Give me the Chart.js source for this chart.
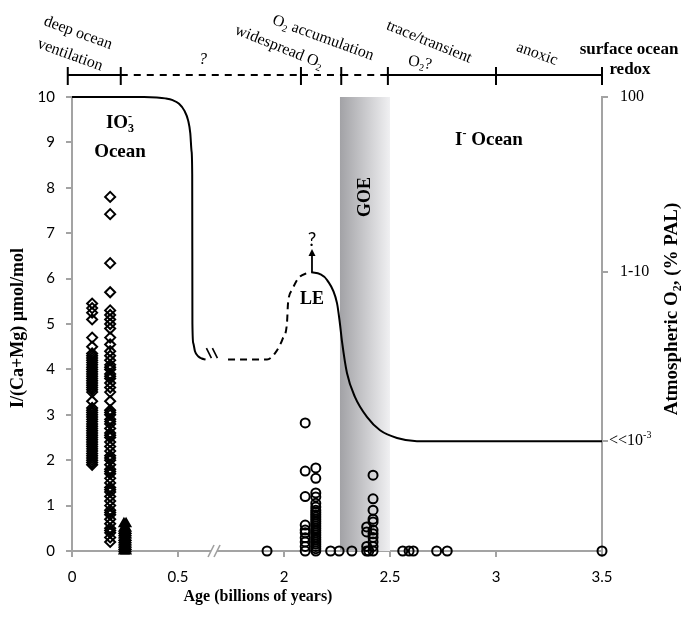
<!DOCTYPE html>
<html>
<head>
<meta charset="utf-8">
<script src="https://cdn.jsdelivr.net/npm/chart.js@4.4.0/dist/chart.umd.min.js"></script>
<style>
  body { margin: 0; background: #fff; }
  #wrap { width: 686px; height: 617px; }
</style>
</head>
<body>
<div id="wrap"><canvas id="chart"></canvas></div>
<script>
// ages in billions of years; the axis skips 0.5-2 Ga, so ages >= 1 sit 1 unit to the left on the plot
const ageTicks = [0, 0.5, 2, 2.5, 3, 3.5];
const pos = a => (a < 1 ? a : a - 1);

// I/(Ca+Mg) data
const diamondAgeA = 0.095;
const diamondValsA = [5.45, 5.35, 5.25, 5.1, 4.7, 4.5, 4.35, 4.3, 4.25, 4.2, 4.15, 4.1, 4.05, 4.0, 3.95, 3.9,
  3.85, 3.8, 3.75, 3.7, 3.65, 3.6, 3.55, 3.5, 3.3, 3.15, 3.1, 3.05, 3.0, 2.95, 2.9, 2.85, 2.8, 2.75, 2.7,
  2.65, 2.6, 2.55, 2.5, 2.45, 2.4, 2.35, 2.3, 2.25, 2.2, 2.15, 2.1, 2.05, 2.0, 1.95, 1.9];
const diamondAgeB = 0.18;
const diamondValsB = [7.8, 7.42, 6.34, 5.7, 5.3, 5.2, 5.1, 5.0, 4.9, 4.7, 4.55, 4.4, 4.3, 4.2, 4.1, 4.05, 4.0,
  3.9, 3.85, 3.8, 3.7, 3.6, 3.5, 3.3, 3.1, 3.05, 3.0, 2.9, 2.85, 2.8, 2.7, 2.6, 2.55, 2.5, 2.4, 2.3, 2.2,
  2.1, 2.05, 2.0, 1.9, 1.8, 1.75, 1.7, 1.6, 1.5, 1.4, 1.35, 1.3, 1.2, 1.1, 1.0, 0.9, 0.85, 0.8, 0.7, 0.6,
  0.5, 0.45, 0.4, 0.3, 0.2];
const triangleAges = [0.245, 0.255];
const triangleVals = [0.6, 0.5, 0.45, 0.4, 0.35, 0.3, 0.25, 0.2, 0.15, 0.1, 0.05, 0];

const circlesAt210 = [2.82, 1.76, 1.2, 0.57, 0.46, 0.4, 0.29, 0.2, 0.1, 0];
const circlesAt215 = [1.83, 1.6, 1.28, 1.19, 1.05, 0.97, 0.9, 0.85, 0.8, 0.75, 0.7, 0.65, 0.6, 0.55, 0.5,
  0.45, 0.4, 0.35, 0.3, 0.25, 0.2, 0.15, 0.1, 0.05, 0];
const circlesAt239 = [0.53, 0.42, 0.1, 0];
const circlesAt242 = [1.67, 1.15, 0.9, 0.7, 0.64, 0.46, 0.38, 0.3, 0.2, 0.1, 0];
const circleZeroAges = [1.92, 2.22, 2.26, 2.32, 2.4, 2.56, 2.59, 2.61, 2.72, 2.77, 3.5];

// atmospheric O2 curve, drawn in left-axis units
const o2AgesA = [0, 0.34, 0.4, 0.44, 0.475, 0.505, 0.53, 0.548, 0.558, 0.564, 0.567, 0.568, 0.572, 0.58,
  0.595, 0.612, 0.63];
const o2ValsA = [10, 10, 9.99, 9.97, 9.93, 9.85, 9.7, 9.48, 9.2, 8.8, 8.3, 5.0, 4.58, 4.4, 4.29, 4.24, 4.22];
const o2AgesDash = [1.736, 1.92, 1.958, 1.995, 2.014, 2.019, 2.038, 2.066, 2.108, 2.132];
const o2ValsDash = [4.22, 4.22, 4.36, 4.69, 5.02, 5.46, 5.75, 6.0, 6.12, 6.14];
const o2AgesB = [2.132, 2.17, 2.203, 2.25, 2.264, 2.274, 2.297, 2.335, 2.392, 2.453, 2.533, 2.627, 3.5];
const o2ValsB = [6.14, 6.1, 5.97, 5.46, 5.0, 4.6, 3.92, 3.39, 2.95, 2.66, 2.49, 2.42, 2.42];

const rightTickVals = [10, 6.15, 2.42];
const rightTickLabels = [['100'], ['1-10'], ['<<10', ['-3', 'sup']]];

const goeAges = [2.264, 2.5];
const topBarAges = [-0.02, 0.23, 2.08, 2.27, 2.49, 3.0, 3.5];
const topBarDashed = [false, true, true, true, false, false];

const pts = (age, vals) => vals.map(v => ({ x: pos(age), y: v }));
const line = (ages, vals) => ages.map((a, i) => ({ x: pos(a), y: vals[i] }));

const serif = '"Liberation Serif", "Times New Roman", serif';

function richText(ctx, parts, x, y, o) {
  const st = (o.italic ? 'italic ' : '') + (o.bold ? 'bold ' : '');
  const big = st + o.size + 'px ' + (o.family || serif);
  const small = st + Math.round(o.size * 0.62) + 'px ' + (o.family || serif);
  const items = [];
  let w = 0, last = 0;
  parts.forEach(p => {
    const t = typeof p === 'string' ? p : p[0];
    const kind = typeof p === 'string' ? 'n' : p[1];
    const f = kind === 'n' ? big : small;
    ctx.font = f;
    const tw = ctx.measureText(t).width;
    const dy = kind === 'sub' ? o.size * 0.3 : (kind === 'n' ? 0 : -o.size * 0.33);
    if (kind === 'over') {
      items.push({ t, f, x: last, dy });
      w = Math.max(w, last + tw);
      return;
    }
    last = w;
    items.push({ t, f, x: w, dy });
    w += tw;
  });
  ctx.save();
  ctx.translate(x, y);
  if (o.angle) ctx.rotate(o.angle * Math.PI / 180);
  ctx.textBaseline = 'middle';
  ctx.textAlign = 'left';
  ctx.fillStyle = '#000';
  const x0 = o.align === 'left' ? 0 : -w / 2;
  items.forEach(it => { ctx.font = it.f; ctx.fillText(it.t, x0 + it.x, it.dy); });
  ctx.restore();
}

const decor = {
  id: 'decor',
  beforeDatasetsDraw(chart) {
    const { ctx, chartArea: ca, scales: { x } } = chart;
    const x0 = x.getPixelForValue(pos(goeAges[0])), x1 = x.getPixelForValue(pos(goeAges[1]));
    const g = ctx.createLinearGradient(x0, 0, x1, 0);
    g.addColorStop(0, '#a2a2a6');
    g.addColorStop(1, '#f0f0f2');
    ctx.save();
    ctx.fillStyle = g;
    ctx.fillRect(x0, ca.top, x1 - x0, ca.bottom - ca.top);
    ctx.restore();
  },
  afterDraw(chart) {
    const { ctx, chartArea: ca, scales: { x, y } } = chart;
    ctx.save();
    ctx.strokeStyle = '#000';

    // top bar of ocean redox states
    const by = 75;
    ctx.lineWidth = 2;
    for (let i = 0; i < topBarAges.length - 1; i++) {
      ctx.setLineDash(topBarDashed[i] ? [7, 6] : []);
      ctx.beginPath();
      ctx.moveTo(x.getPixelForValue(pos(topBarAges[i])), by);
      ctx.lineTo(x.getPixelForValue(pos(topBarAges[i + 1])), by);
      ctx.stroke();
    }
    ctx.setLineDash([]);
    topBarAges.forEach(a => {
      const px = x.getPixelForValue(pos(a));
      ctx.beginPath(); ctx.moveTo(px, 67); ctx.lineTo(px, 85); ctx.stroke();
    });

    const t16 = { size: 16 };
    richText(ctx, ['deep ocean'], 78, 33, { ...t16, angle: 20 });
    richText(ctx, ['ventilation'], 70, 55, { ...t16, angle: 20 });
    richText(ctx, ['?'], 203, 60, { ...t16, italic: true });
    richText(ctx, ['widespread O', ['2', 'sub']], 279, 47, { ...t16, angle: 22 });
    richText(ctx, ['O', ['2', 'sub'], ' accumulation'], 323, 38, { ...t16, angle: 20 });
    richText(ctx, ['trace/transient'], 429, 42, { ...t16, angle: 22 });
    richText(ctx, ['O', ['2', 'sub'], '?'], 420, 63, { ...t16, angle: 10 });
    richText(ctx, ['anoxic'], 537, 54, { ...t16, angle: 20 });
    richText(ctx, ['surface ocean'], 629, 50, { size: 17, bold: true });
    richText(ctx, ['redox'], 630, 70, { size: 17, bold: true });

    // labels inside the plot
    richText(ctx, ['IO', ['3', 'sub'], ['-', 'over']], 120, 123, { size: 19, bold: true });
    richText(ctx, ['Ocean'], 120, 152, { size: 19, bold: true });
    richText(ctx, ['I', ['-', 'sup'], ' Ocean'], 489, 140, { size: 19, bold: true });
    richText(ctx, ['LE'], 312, 299, { size: 18, bold: true });
    richText(ctx, ['GOE'], 365, 197, { size: 18, bold: true, angle: -90 });

    // arrow and question mark above LE peak
    const ax = x.getPixelForValue(pos(2.132));
    const ay0 = y.getPixelForValue(6.14), ay1 = y.getPixelForValue(6.65);
    ctx.lineWidth = 1.8;
    ctx.beginPath(); ctx.moveTo(ax, ay0); ctx.lineTo(ax, ay1 + 3); ctx.stroke();
    ctx.beginPath(); ctx.moveTo(ax, ay1); ctx.lineTo(ax - 3.5, ay1 + 7); ctx.lineTo(ax + 3.5, ay1 + 7); ctx.closePath();
    ctx.fillStyle = '#000'; ctx.fill();
    richText(ctx, ['?'], ax, y.getPixelForValue(6.85), { size: 19, family: 'Lato, sans-serif' });

    // break marks on curve
    const bx = x.getPixelForValue(pos(0.66)), byc = y.getPixelForValue(4.36);
    ctx.lineWidth = 1.6;
    [-3, 3].forEach(d => {
      ctx.beginPath(); ctx.moveTo(bx + d - 2.5, byc - 5); ctx.lineTo(bx + d + 2.5, byc + 5); ctx.stroke();
    });

    // break on x axis
    const xb = x.getPixelForValue(0.67);
    ctx.fillStyle = '#fff';
    ctx.fillRect(xb - 3, ca.bottom - 2, 6, 4);
    ctx.strokeStyle = '#a0a0a0';
    ctx.lineWidth = 1.6;
    [-3, 3].forEach(d => {
      ctx.beginPath(); ctx.moveTo(xb + d - 3, ca.bottom + 6); ctx.lineTo(xb + d + 3, ca.bottom - 6); ctx.stroke();
    });

    // right axis labels
    const r = chart.scales.y2;
    rightTickVals.forEach((v, i) => {
      const lx = i === 2 ? ca.right + 7 : ca.right + 18;
      richText(ctx, rightTickLabels[i], lx, r.getPixelForValue(v), { size: 16, align: 'left' });
    });

    // axis titles
    richText(ctx, ['Age (billions of years)'], 258, 597, { size: 16, bold: true });
    richText(ctx, ['I/(Ca+Mg) µmol/mol'], 18, 328, { size: 18, bold: true, angle: -90 });
    richText(ctx, ['Atmospheric O', ['2', 'sub'], ', (% PAL)'], 672, 309, { size: 19, bold: true, angle: -90 });
    ctx.restore();
  }
};

const axisGrey = '#a3a3a3';
const scatter = (data, style, radius, extra) => Object.assign({
  data, pointStyle: style, pointRadius: radius, borderColor: '#000',
  backgroundColor: 'rgba(0,0,0,0)', borderWidth: 2, showLine: false, clip: false
}, extra || {});
const curve = (data, dash) => ({
  data, showLine: true, pointRadius: 0, borderColor: '#000', borderWidth: 2,
  borderDash: dash || [], cubicInterpolationMode: 'monotone', clip: false
});

new Chart(document.getElementById('chart'), {
  type: 'scatter',
  data: {
    datasets: [
      curve(line(o2AgesA, o2ValsA)),
      curve(line(o2AgesDash, o2ValsDash), [7, 5]),
      curve(line(o2AgesB, o2ValsB)),
      scatter(pts(diamondAgeA, diamondValsA), 'rectRot', 5),
      scatter(pts(diamondAgeB, diamondValsB), 'rectRot', 5),
      scatter(pts(triangleAges[0], triangleVals).concat(pts(triangleAges[1], triangleVals)), 'triangle', 5,
        { backgroundColor: '#000' }),
      scatter(pts(2.1, circlesAt210), 'circle', 4.5),
      scatter(pts(2.15, circlesAt215), 'circle', 4.5),
      scatter(pts(2.39, circlesAt239), 'circle', 4.5),
      scatter(pts(2.42, circlesAt242), 'circle', 4.5),
      scatter(circleZeroAges.map(a => ({ x: pos(a), y: 0 })), 'circle', 4.5)
    ]
  },
  options: {
    responsive: true,
    maintainAspectRatio: false,
    animation: false,
    layout: { padding: { top: 97 } },
    plugins: { legend: { display: false }, tooltip: { enabled: false } },
    scales: {
      x: {
        type: 'linear', min: 0, max: pos(3.5),
        afterBuildTicks: s => { s.ticks = ageTicks.map(a => ({ value: pos(a) })); },
        ticks: { callback: (v, i) => String(ageTicks[i]), font: { family: 'Lato', size: 15 }, color: '#000', padding: 11 },
        grid: { drawOnChartArea: false, tickLength: 6, color: axisGrey, lineWidth: 2 },
        border: { color: axisGrey, width: 2 },
        afterFit: s => { s.height = 66; }
      },
      y: {
        min: 0, max: 10,
        ticks: { stepSize: 1, font: { family: 'Lato', size: 15 }, color: '#000', padding: 11 },
        grid: { drawOnChartArea: false, tickLength: 6, color: axisGrey, lineWidth: 2 },
        border: { color: axisGrey, width: 2 },
        afterFit: s => { s.width = 72; }
      },
      y2: {
        position: 'right', min: 0, max: 10,
        afterBuildTicks: s => { s.ticks = rightTickVals.map(v => ({ value: v })); },
        ticks: { display: false },
        grid: { drawOnChartArea: false, tickLength: 6, color: axisGrey, lineWidth: 2 },
        border: { color: axisGrey, width: 2 },
        afterFit: s => { s.width = 84; }
      }
    }
  },
  plugins: [decor]
});
</script>
</body>
</html>
